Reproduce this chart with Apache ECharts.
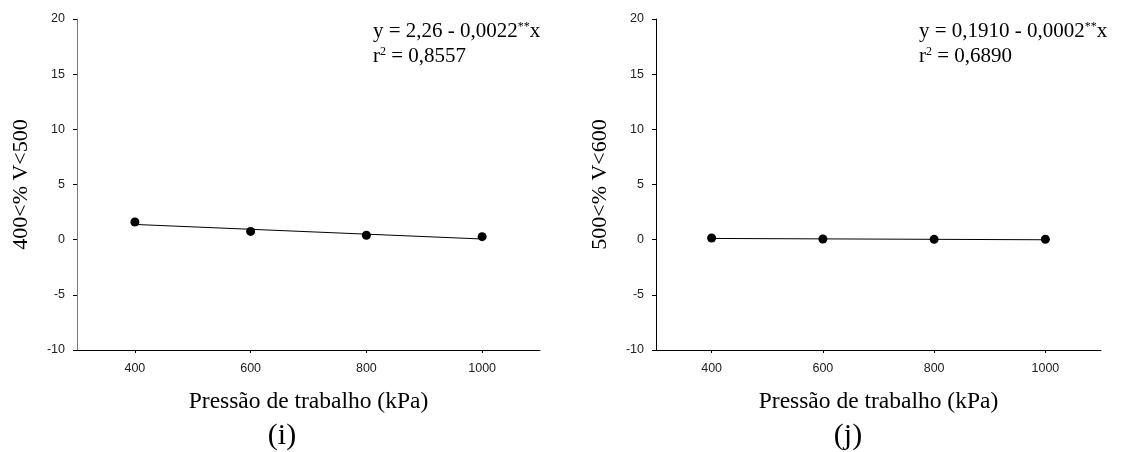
<!DOCTYPE html>
<html>
<head>
<meta charset="utf-8">
<script src="https://cdn.jsdelivr.net/npm/echarts@6/dist/echarts.min.js"></script>
<style>html,body{margin:0;padding:0;background:#fff}#c{width:1123px;height:452px}</style>
</head>
<body>
<div id="c"></div>
<script>
// Data
const pressure = [400, 600, 800, 1000];
const xTicks = [400, 600, 800, 1000];
const seriesI = [1.6, 0.75, 0.4, 0.27];   // 400<% V<500
const seriesJ = [0.15, 0.06, 0.03, 0.04]; // 500<% V<600
const coefI = [2.26, -0.0022];
const coefJ = [0.1910, -0.0002];
const yTitleI = '400<% V<500';
const yTitleJ = '500<% V<600';
const xTitle = 'Pressão de trabalho (kPa)';
const eqI = ['2,26 - 0,0022', '0,8557'];
const eqJ = ['0,1910 - 0,0002', '0,6890'];
const panelLabels = ['(i)', '(j)'];

const serif = '"Liberation Serif", "Times New Roman", serif';
const sans = '"Liberation Sans", Arial, sans-serif';

function fitLine(c) {
  return [[pressure[0], c[0] + c[1] * pressure[0]], [pressure[pressure.length - 1], c[0] + c[1] * pressure[pressure.length - 1]]];
}

function xAxis(idx) {
  return {
    gridIndex: idx, type: 'value', min: 300, max: 1100,
    name: xTitle, nameLocation: 'middle', nameGap: 40,
    nameTextStyle: { fontFamily: serif, fontSize: 23.5, color: '#000' },
    axisLine: { onZero: false, lineStyle: { color: '#000', width: 1 } },
    axisTick: { show: true, length: 3, customValues: xTicks, lineStyle: { color: '#000' } },
    axisLabel: { customValues: xTicks, formatter: v => String(v), fontFamily: sans, fontSize: 12.5, color: '#222', margin: 12 },
    splitLine: { show: false }
  };
}
function yAxis(idx, name, color) {
  return {
    gridIndex: idx, type: 'value', min: -10, max: 20, interval: 5,
    name: name, nameLocation: 'middle', nameGap: 45, nameRotate: 90,
    nameTextStyle: { fontFamily: serif, fontSize: 22, color: '#000' },
    axisLine: { show: true, onZero: false, lineStyle: { color: color, width: 1 } },
    axisTick: { show: true, length: 4, lineStyle: { color: '#000' } },
    axisLabel: { formatter: v => String(v), fontFamily: sans, fontSize: 12.5, color: '#222', margin: 12 },
    splitLine: { show: false }
  };
}
const rich = {
  n: { fontFamily: serif, fontSize: 21, fill: '#000', verticalAlign: 'bottom' },
  s: { fontFamily: serif, fontSize: 12, padding: [0, 0, 9, 0], fill: '#000', verticalAlign: 'bottom' }
};
function eqText(left, top, eq) {
  return [
    { type: 'text', left: left, top: top, style: { text: '{n|y = ' + eq[0] + '}{s|**}{n|x}', rich: rich } },
    { type: 'text', left: left, top: top + 25, style: { text: '{n|r}{s|2}{n| = ' + eq[1] + '}', rich: rich } }
  ];
}

const chart = echarts.init(document.getElementById('c'));
chart.setOption({
  animation: false,
  grid: [
    { left: 77, top: 19, width: 463, height: 331 },
    { left: 656, top: 19, width: 445, height: 331 }
  ],
  xAxis: [xAxis(0), xAxis(1)],
  yAxis: [yAxis(0, yTitleI, '#777'), yAxis(1, yTitleJ, '#000')],
  series: [
    { type: 'line', xAxisIndex: 0, yAxisIndex: 0, data: fitLine(coefI), symbol: 'none', lineStyle: { color: '#000', width: 1 }, z: 1 },
    { type: 'scatter', xAxisIndex: 0, yAxisIndex: 0, data: pressure.map((p, i) => [p, seriesI[i]]), symbolSize: 9, itemStyle: { color: '#000', opacity: 1 }, z: 2 },
    { type: 'line', xAxisIndex: 1, yAxisIndex: 1, data: fitLine(coefJ), symbol: 'none', lineStyle: { color: '#000', width: 1 }, z: 1 },
    { type: 'scatter', xAxisIndex: 1, yAxisIndex: 1, data: pressure.map((p, i) => [p, seriesJ[i]]), symbolSize: 9, itemStyle: { color: '#000', opacity: 1 }, z: 2 }
  ],
  graphic: [
    ...eqText(373, 21, eqI),
    ...eqText(919, 21, eqJ),
    { type: 'text', x: 282, y: 436, style: { text: panelLabels[0], fontFamily: serif, fontSize: 30, fill: '#000', align: 'center', verticalAlign: 'middle' } },
    { type: 'text', x: 848, y: 436, style: { text: panelLabels[1], fontFamily: serif, fontSize: 30, fill: '#000', align: 'center', verticalAlign: 'middle' } }
  ]
});
</script>
</body>
</html>
